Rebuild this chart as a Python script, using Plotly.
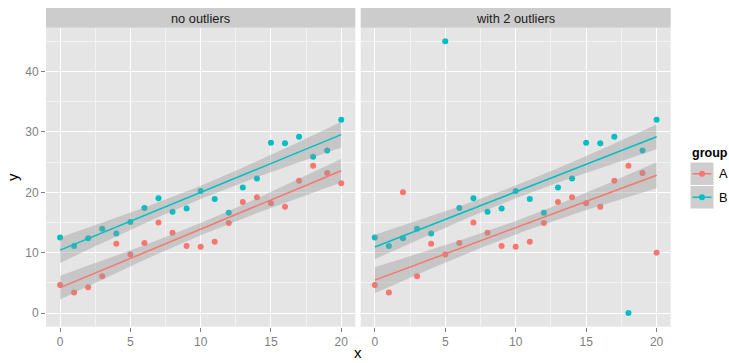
import numpy as np
import plotly.graph_objects as go

# ---------------- data ----------------
x_vals = list(range(21))
facets = ["no outliers", "with 2 outliers"]
groups = ["A", "B"]
A_no = [4.65, 3.4, 4.3, 6.1, 11.5, 9.7, 11.6, 15.0, 13.3, 11.1, 11.0,
        11.8, 14.9, 18.4, 19.2, 18.2, 17.6, 21.9, 24.4, 23.2, 21.5]
B_no = [12.5, 11.1, 12.4, 13.95, 13.2, 15.1, 17.4, 19.0, 16.8, 17.3, 20.2,
        18.9, 16.6, 20.8, 22.3, 28.2, 28.1, 29.2, 25.9, 26.9, 32.0]
A_out = [4.65, 3.4, 20.0, 6.1, 11.5, 9.7, 11.6, 15.0, 13.3, 11.1, 11.0,
         11.8, 14.9, 18.4, 19.2, 18.2, 17.6, 21.9, 24.4, 23.2, 10.0]
B_out = [12.5, 11.1, 12.4, 13.95, 13.2, 45.0, 17.4, 19.0, 16.8, 17.3, 20.2,
         18.9, 16.6, 20.8, 22.3, 28.2, 28.1, 29.2, 0.0, 26.9, 32.0]
x_ticks = [0, 5, 10, 15, 20]
y_ticks = [0, 10, 20, 30, 40]

panel_data = {
    facets[0]: {"A": A_no, "B": B_no},
    facets[1]: {"A": A_out, "B": B_out},
}
colors = {"A": "#F8766D", "B": "#00BFC4"}

W, H = 729, 363


def px_x(p):
    return p / W


def px_y(p):
    return 1 - p / H


def rlm_huber(x, y, k=1.345, maxit=20, acc=1e-4):
    X = np.column_stack([np.ones_like(x), x])
    coef = np.linalg.lstsq(X, y, rcond=None)[0]
    resid = y - X @ coef
    s = np.median(np.abs(resid)) / 0.6745
    for _ in range(maxit):
        s = np.median(np.abs(resid)) / 0.6745
        u = resid / s
        w = np.minimum(1.0, k / np.maximum(np.abs(u), 1e-12))
        sw = np.sqrt(w)
        coef = np.linalg.lstsq(X * sw[:, None], y * sw, rcond=None)[0]
        old = resid
        resid = y - X @ coef
        conv = np.sqrt(np.sum((old - resid) ** 2) / max(1e-20, np.sum(old ** 2)))
        if conv < acc:
            break
    return coef, s, X


fig = go.Figure()

axis_names = [("x", "y"), ("x2", "y2")]
for fi, fname in enumerate(facets):
    xa, ya = axis_names[fi]
    # points first
    for g in groups:
        fig.add_trace(go.Scatter(
            x=x_vals, y=panel_data[fname][g], mode="markers",
            marker=dict(color=colors[g], size=6, line=dict(width=0)),
            xaxis=xa, yaxis=ya, showlegend=False, hoverinfo="skip"))
    # smooth layers
    for g in groups:
        xx = np.array(x_vals, dtype=float)
        yy = np.array(panel_data[fname][g], dtype=float)
        coef, s, X = rlm_huber(xx, yy)
        xs = np.linspace(xx.min(), xx.max(), 80)
        Xs = np.column_stack([np.ones_like(xs), xs])
        XtXi = np.linalg.inv(X.T @ X)
        fit = Xs @ coef
        se = s * np.sqrt(np.einsum("ij,jk,ik->i", Xs, XtXi, Xs))
        lo, hi = fit - 1.96 * se, fit + 1.96 * se
        fig.add_trace(go.Scatter(
            x=np.concatenate([xs, xs[::-1]]), y=np.concatenate([hi, lo[::-1]]),
            mode="lines", fill="toself", fillcolor="rgba(153,153,153,0.4)",
            line=dict(width=0), xaxis=xa, yaxis=ya, showlegend=False,
            hoverinfo="skip"))
        fig.add_trace(go.Scatter(
            x=xs, y=fit, mode="lines", line=dict(color=colors[g], width=1.5),
            xaxis=xa, yaxis=ya, showlegend=False, hoverinfo="skip"))

tick_font = dict(family="Liberation Sans, Arial, sans-serif", size=12, color="#7F7F7F")
common_x = dict(range=[-1, 21], tickvals=x_ticks, ticks="outside", ticklen=4,
                tickcolor="#7F7F7F", tickwidth=1, showgrid=True, gridcolor="white",
                gridwidth=1.1, zeroline=False, showline=False, tickfont=tick_font,
                minor=dict(tickvals=[2.5, 7.5, 12.5, 17.5], showgrid=True,
                           gridcolor="#F2F2F2", gridwidth=0.6, ticks=""))
y_minor = dict(tickvals=[5, 15, 25, 35, 45], showgrid=True,
               gridcolor="#F2F2F2", gridwidth=0.6, ticks="")
ydom = [px_y(326.7), px_y(27.7)]
fig.update_layout(
    width=W, height=H, autosize=False,
    margin=dict(l=0, r=0, t=0, b=0),
    paper_bgcolor="white", plot_bgcolor="#E5E5E5",
    font=dict(family="Liberation Sans, Arial, sans-serif"),
    xaxis=dict(domain=[px_x(46), px_x(355.3)], anchor="y", **common_x),
    xaxis2=dict(domain=[px_x(360.7), px_x(670.7)], anchor="y2", **common_x),
    yaxis=dict(domain=ydom, range=[-2.25, 47.25], tickvals=y_ticks, ticks="outside",
               ticklen=4, tickcolor="#7F7F7F", tickwidth=1, showgrid=True,
               gridcolor="white", gridwidth=1.1, zeroline=False, showline=False,
               tickfont=tick_font, anchor="x", minor=y_minor),
    yaxis2=dict(domain=ydom, range=[-2.25, 47.25], tickvals=y_ticks, ticks="",
                showticklabels=False, showgrid=True, gridcolor="white", gridwidth=1.1,
                zeroline=False, showline=False, anchor="x2", minor=y_minor),
    showlegend=False,
)

shapes = []
annotations = []
# strips
for (x0, x1), name in zip([(46, 355.3), (360.7, 670.7)], facets):
    shapes.append(dict(type="rect", xref="paper", yref="paper",
                       x0=px_x(x0), x1=px_x(x1), y0=px_y(27.7), y1=px_y(8),
                       fillcolor="#CCCCCC", line=dict(width=0), layer="below"))
    annotations.append(dict(text=name, xref="paper", yref="paper",
                            x=px_x((x0 + x1) / 2), y=px_y(18), xanchor="center",
                            yanchor="middle", showarrow=False,
                            font=dict(size=12.8, color="#1A1A1A")))
# axis titles
annotations.append(dict(text="x", xref="paper", yref="paper", x=px_x(358.4),
                        y=0, xanchor="center", yanchor="bottom",
                        showarrow=False, font=dict(size=15, color="black")))
annotations.append(dict(text="y", xref="paper", yref="paper", x=px_x(12.5),
                        y=px_y(177.5), xanchor="center", yanchor="middle",
                        textangle=-90, showarrow=False,
                        font=dict(size=15, color="black")))
# legend
annotations.append(dict(text="<b>group</b>", xref="paper", yref="paper",
                        x=px_x(690), y=px_y(152.5), xanchor="left", yanchor="middle",
                        showarrow=False, font=dict(size=12.5, color="black")))
key_top = 162
key_h = 23.5
for i, g in enumerate(groups):
    t = key_top + i * key_h
    shapes.append(dict(type="rect", xref="paper", yref="paper",
                       x0=px_x(690), x1=px_x(714), y0=px_y(t + key_h), y1=px_y(t),
                       fillcolor="#CECECE", line=dict(color="white", width=1)))
    shapes.append(dict(type="line", xref="paper", yref="paper",
                       x0=px_x(692.5), x1=px_x(711.5), y0=px_y(t + key_h / 2),
                       y1=px_y(t + key_h / 2), line=dict(color=colors[g], width=1.5)))
    shapes.append(dict(type="circle", xref="paper", yref="paper",
                       x0=px_x(699), x1=px_x(705), y0=px_y(t + key_h / 2 + 3),
                       y1=px_y(t + key_h / 2 - 3), fillcolor=colors[g],
                       line=dict(width=0)))
    annotations.append(dict(text=g, xref="paper", yref="paper", x=px_x(717),
                            y=px_y(t + key_h / 2), xanchor="left", yanchor="middle",
                            showarrow=False, font=dict(size=12.8, color="black")))

fig.update_layout(shapes=shapes, annotations=annotations)
fig.write_html("out.html")
